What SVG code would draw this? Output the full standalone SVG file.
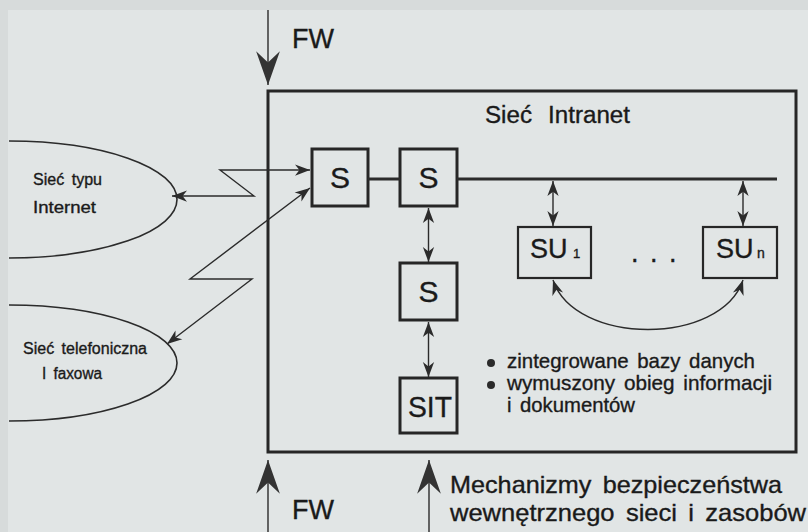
<svg xmlns="http://www.w3.org/2000/svg" width="808" height="532" viewBox="0 0 808 532">
<style>
.ln{stroke:#2b2b2b;fill:none}
.thick{stroke-width:3}
.thin{stroke-width:1.4}
.box{fill:none;stroke:#262626;stroke-width:3}
.sbox{fill:none;stroke:#262626;stroke-width:2.2}
.t{font-family:"Liberation Sans",Arial,sans-serif;fill:#1a1a1a;stroke:#1a1a1a;stroke-width:0.35}
</style>
<defs>
<marker id="fw" markerUnits="userSpaceOnUse" markerWidth="40" markerHeight="40" viewBox="-30 -12 32 24" refX="0" refY="0" orient="auto" overflow="visible">
<path d="M0,0 L-27,-9.5 L-18,0 L-27,9.5 Z" fill="#333"/>
</marker>
<marker id="sm" markerUnits="userSpaceOnUse" markerWidth="20" markerHeight="20" viewBox="-14 -7 16 14" refX="0" refY="0" orient="auto-start-reverse" overflow="visible">
<path d="M0,0 L-12,-4.5 L-8.5,0 L-12,4.5 Z" fill="#2b2b2b"/>
</marker>
</defs>
<rect x="0" y="0" width="808" height="532" fill="#d7dbdb"/>
<rect x="8" y="10" width="800" height="522" fill="#e1e5e5"/>

<g id="intranet">
<rect class="box" x="268" y="91" width="528" height="361"/>
<text class="t" x="485" y="123" font-size="23" word-spacing="9" textLength="145" lengthAdjust="spacingAndGlyphs">Sieć Intranet</text>
</g>

<g id="internet">
<path class="ln" stroke-width="1.6" d="M9,141 A168,58.5 0 0 1 9,258"/>
<text class="t" x="33" y="185" font-size="16" word-spacing="3" textLength="69" lengthAdjust="spacingAndGlyphs">Sieć typu</text>
<text class="t" x="33" y="213" font-size="16" textLength="63" lengthAdjust="spacingAndGlyphs">Internet</text>
</g>

<g id="telefon">
<path class="ln" stroke-width="1.6" d="M9,305 A168,58 0 0 1 9,421"/>
<text class="t" x="23" y="354" font-size="16" word-spacing="3" textLength="124" lengthAdjust="spacingAndGlyphs">Sieć telefoniczna</text>
<text class="t" x="42" y="379" font-size="16" word-spacing="3" textLength="60" lengthAdjust="spacingAndGlyphs">I faxowa</text>
</g>

<g id="s1">
<rect class="box" x="312" y="149" width="56" height="57"/>
<text class="t" x="340" y="188" font-size="30" text-anchor="middle">S</text>
</g>
<g id="s2">
<rect class="box" x="400" y="149" width="57" height="57"/>
<text class="t" x="428.5" y="188" font-size="30" text-anchor="middle">S</text>
</g>
<g id="s3">
<rect class="box" x="400" y="263" width="57" height="57"/>
<text class="t" x="428.5" y="302" font-size="30" text-anchor="middle">S</text>
</g>
<g id="sit">
<rect class="box" x="400" y="378" width="57" height="55"/>
<text class="t" x="430" y="417" font-size="30" text-anchor="middle" textLength="44" lengthAdjust="spacingAndGlyphs">SIT</text>
</g>
<g id="su1">
<rect class="sbox" x="518" y="227" width="73" height="51"/>
<text class="t" x="530" y="258" font-size="27">SU</text>
<text class="t" x="573" y="258" font-size="13">1</text>
</g>
<g id="sun">
<rect class="sbox" x="703" y="227" width="74" height="51"/>
<text class="t" x="716" y="258" font-size="27">SU</text>
<text class="t" x="757" y="258" font-size="14">n</text>
</g>
<g id="dots">
<text class="t" x="631 650 669" y="262" font-size="27">...</text>
</g>

<g id="features">
<circle cx="491" cy="363" r="4" fill="#2b2b2b"/>
<circle cx="491" cy="385" r="4" fill="#2b2b2b"/>
<text class="t" x="507" y="368" font-size="21" word-spacing="3" textLength="248" lengthAdjust="spacingAndGlyphs">zintegrowane bazy danych</text>
<text class="t" x="507" y="390" font-size="21" word-spacing="3" textLength="265" lengthAdjust="spacingAndGlyphs">wymuszony obieg informacji</text>
<text class="t" x="507" y="412" font-size="21" word-spacing="3" textLength="128" lengthAdjust="spacingAndGlyphs">i dokumentów</text>
</g>

<g id="labels">
<text class="t" x="292" y="48" font-size="27">FW</text>
<text class="t" x="292" y="519" font-size="27">FW</text>
<text class="t" x="450" y="493" font-size="24" word-spacing="4" textLength="332" lengthAdjust="spacingAndGlyphs">Mechanizmy bezpieczeństwa</text>
<text class="t" x="450" y="521" font-size="24" word-spacing="4" textLength="356" lengthAdjust="spacingAndGlyphs">wewnętrznego sieci i zasobów</text>
</g>

<g id="connectors">
<line class="ln thin" x1="268" y1="10" x2="268" y2="85" marker-end="url(#fw)"/>
<line class="ln thin" x1="268" y1="532" x2="268" y2="460" marker-end="url(#fw)"/>
<line class="ln thin" x1="429" y1="532" x2="429" y2="460" marker-end="url(#fw)"/>
<line class="ln thick" x1="368" y1="179" x2="400" y2="179"/>
<line class="ln thick" x1="457" y1="179" x2="777" y2="179"/>
<line class="ln thin" x1="553" y1="181" x2="553" y2="226" marker-start="url(#sm)" marker-end="url(#sm)"/>
<line class="ln thin" x1="743" y1="181" x2="743" y2="226" marker-start="url(#sm)" marker-end="url(#sm)"/>
<line class="ln thin" x1="428.5" y1="208" x2="428.5" y2="262" marker-start="url(#sm)" marker-end="url(#sm)"/>
<line class="ln thin" x1="428.5" y1="322" x2="428.5" y2="377" marker-start="url(#sm)" marker-end="url(#sm)"/>
<path class="ln thin" d="M553,280 C575,346 721,346 743,280" marker-start="url(#sm)" marker-end="url(#sm)"/>
<path class="ln thin" d="M172,196 L254,196 L220,170 L310,170" marker-start="url(#sm)" marker-end="url(#sm)"/>
<path class="ln thin" d="M310,188 L190,279 L252,279 L167,344" marker-start="url(#sm)" marker-end="url(#sm)"/>
</g>
</svg>
